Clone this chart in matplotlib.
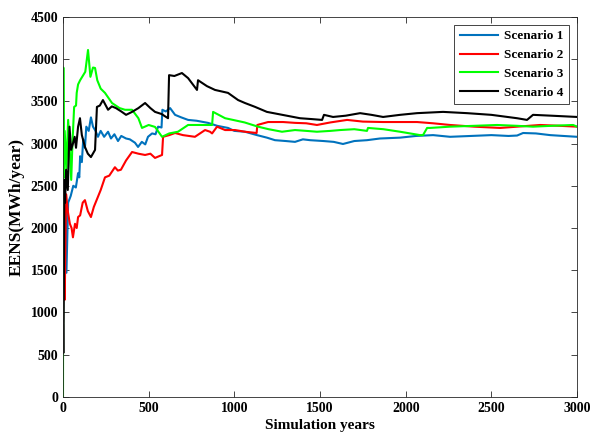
import matplotlib.pyplot as plt

# values (simulation year, EENS in MWh/year)
s1_years = [2, 8, 14, 20, 30, 45, 60, 75, 88, 95, 100, 110, 118, 128, 136, 150, 163, 175, 190,
            204, 220, 240, 263, 280, 300, 321, 340, 368, 390, 420, 438, 460, 480, 496, 520, 540,
            555, 575, 580, 600, 625, 654, 690, 730, 780, 846, 900, 963, 1000, 1062, 1132, 1190,
            1237, 1300, 1354, 1400, 1442, 1520, 1580, 1634, 1700, 1774, 1850, 1967, 2060, 2160,
            2259, 2380, 2500, 2600, 2650, 2685, 2760, 2843, 2920, 3000]
s1_eens = [2200, 1500, 2350, 1470, 2300, 2380, 2500, 2480, 2650, 2600, 2850, 2780, 3050, 2950,
           3200, 3150, 3310, 3200, 3150, 3080, 3150, 3080, 3140, 3060, 3110, 3030, 3090, 3060,
           3050, 3010, 2960, 3020, 2990, 3080, 3120, 3110, 3200, 3190, 3400, 3380, 3420, 3340,
           3310, 3280, 3270, 3245, 3210, 3185, 3150, 3140, 3100, 3070, 3040, 3030, 3020, 3050,
           3040, 3030, 3020, 2995, 3030, 3040, 3060, 3070, 3090, 3100, 3080, 3090, 3100, 3090,
           3095, 3125, 3120, 3100, 3090, 3080]

s2_years = [2, 6, 10, 18, 28, 40, 50, 58, 70, 80, 88, 100, 115, 128, 145, 163, 180, 204, 220,
            245, 270, 303, 320, 338, 368, 403, 440, 479, 510, 537, 578, 584, 620, 654, 700, 770,
            829, 858, 870, 899, 946, 1004, 1062, 1130, 1134, 1197, 1284, 1354, 1420, 1482, 1560,
            1658, 1750, 1868, 1967, 2066, 2160, 2259, 2400, 2551, 2650, 2784, 2900, 3000]
s2_eens = [2000, 2300, 1150, 2400, 2200, 2050, 2000, 1890, 2050, 2000, 2130, 2150, 2300, 2330,
           2200, 2130, 2250, 2370, 2450, 2600, 2620, 2720, 2680, 2690, 2800, 2900, 2880, 2865,
           2880, 2830, 2865, 3080, 3100, 3125, 3100, 3080, 3160, 3140, 3120, 3200, 3160, 3160,
           3140, 3125, 3220, 3255, 3255, 3245, 3240, 3220, 3250, 3280, 3260, 3255, 3255, 3255,
           3240, 3220, 3200, 3185, 3200, 3220, 3210, 3200]

s3_years = [0, 2, 5, 10, 20, 30, 40, 48, 55, 65, 76, 80, 88, 100, 115, 130, 146, 160, 175, 187,
            200, 220, 245, 286, 330, 362, 403, 440, 461, 500, 537, 578, 620, 671, 730, 800, 870,
            876, 946, 992, 1060, 1138, 1200, 1278, 1354, 1420, 1482, 1560, 1617, 1700, 1774, 1780,
            1870, 1967, 2084, 2101, 2125, 2142, 2259, 2400, 2533, 2650, 2743, 2850, 2977, 3000]
s3_eens = [0, 3900, 2600, 3150, 2700, 3280, 2900, 2570, 3000, 3434, 3450, 3600, 3700, 3750,
           3800, 3850, 4108, 3790, 3900, 3895, 3750, 3650, 3600, 3480, 3420, 3400, 3400, 3300,
           3185, 3220, 3197, 3080, 3120, 3140, 3220, 3220, 3220, 3375, 3300, 3280, 3250, 3200,
           3170, 3140, 3160, 3150, 3140, 3150, 3160, 3170, 3150, 3185, 3170, 3140, 3100, 3100,
           3185, 3185, 3200, 3210, 3220, 3210, 3200, 3210, 3220, 3200]

s4_years = [0, 2, 4, 8, 12, 18, 28, 38, 47, 58, 68, 76, 88, 99, 110, 128, 145, 163, 180, 187,
            198, 215, 233, 263, 285, 309, 340, 368, 403, 440, 479, 510, 537, 575, 613, 619, 650,
            694, 730, 782, 788, 840, 887, 963, 1022, 1062, 1120, 1190, 1280, 1383, 1450, 1512,
            1523, 1576, 1650, 1734, 1800, 1868, 1967, 2066, 2218, 2358, 2500, 2650, 2708, 2743,
            2850, 3000]
s4_eens = [850, 520, 900, 2570, 2300, 2690, 2450, 3200, 2925, 3000, 3080, 2950, 3200, 3300,
           3100, 2960, 2880, 2840, 2900, 2925, 3434, 3450, 3515, 3400, 3440, 3420, 3380, 3340,
           3375, 3420, 3480, 3420, 3375, 3350, 3300, 3810, 3800, 3835, 3775, 3635, 3750, 3680,
           3635, 3600, 3515, 3480, 3435, 3375, 3340, 3300, 3290, 3280, 3340, 3315, 3330, 3360,
           3340, 3315, 3340, 3360, 3375, 3360, 3340, 3300, 3280, 3340, 3330, 3315]

font = 'Liberation Serif'
plt.rcParams['font.family'] = font
plt.rcParams['font.weight'] = 'bold'

fig = plt.figure(figsize=(5.91, 4.44), dpi=100)
ax = fig.add_axes([0.1066, 0.106, 0.8698, 0.856])

ax.plot(s1_years, s1_eens, color='#0072BD', lw=1.5, label='Scenario 1')
ax.plot(s2_years, s2_eens, color='#FF0000', lw=1.5, label='Scenario 2')
ax.plot(s3_years, s3_eens, color='#00FF00', lw=1.5, label='Scenario 3')
ax.plot(s4_years, s4_eens, color='black', lw=1.5, label='Scenario 4')

ax.set_xlim(0, 3000)
ax.set_ylim(0, 4500)
ax.set_xticks(range(0, 3001, 500))
ax.set_yticks(range(0, 4501, 500))
ax.tick_params(direction='in', top=True, right=True, length=4, width=0.6,
               labelsize=10, color='#262626')
for sp in ax.spines.values():
    sp.set_color('#262626')
    sp.set_linewidth(0.6)

ax.set_xlabel('Simulation years', fontsize=11, fontweight='bold', labelpad=3)
ax.set_ylabel('EENS(MWh/year)', fontsize=12.5, fontweight='bold', labelpad=4)

leg = ax.legend(loc='upper right', fontsize=9.5, fancybox=False, framealpha=1,
                edgecolor='#262626', handlelength=2.9, borderaxespad=0.6,
                labelspacing=0.5, handletextpad=0.5, borderpad=0.4)
leg.get_frame().set_linewidth(0.6)

fig.savefig('out.png', dpi=100)
